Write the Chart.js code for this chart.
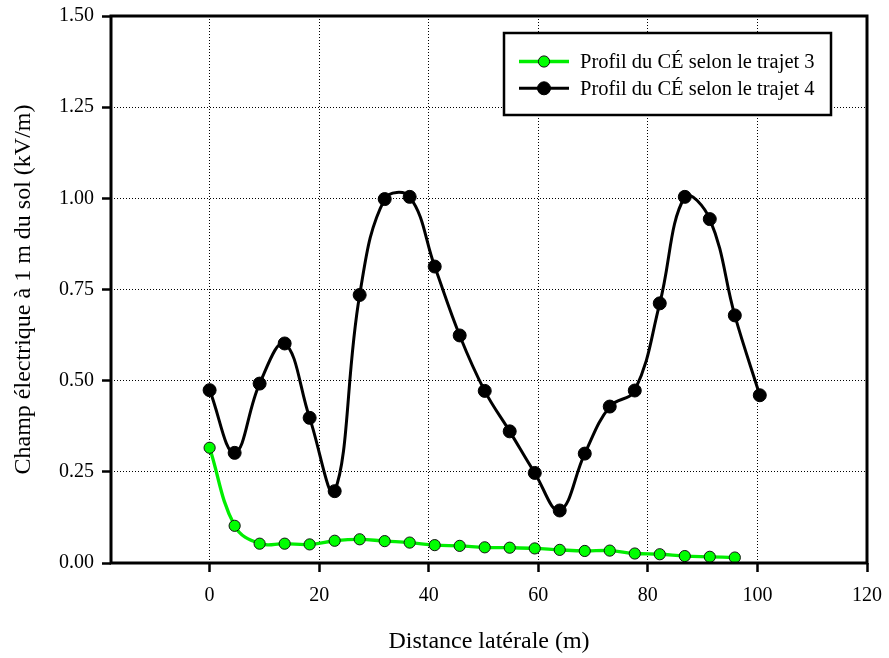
<!DOCTYPE html>
<html>
<head>
<meta charset="utf-8">
<script src="https://cdn.jsdelivr.net/npm/chart.js@4"></script>
<style>
  html, body { margin: 0; padding: 0; background: #fff; }
  canvas { display: block; }
</style>
</head>
<body>
<canvas id="chart" width="889" height="658"></canvas>
<script>
// Values
const distances = [0, 4.57, 9.13, 13.70, 18.26, 22.83, 27.39, 31.96, 36.52, 41.09, 45.65, 50.22,
                   54.78, 59.35, 63.91, 68.48, 73.04, 77.61, 82.17, 86.74, 91.30, 95.87, 100.43];
const champTrajet3 = [0.316, 0.102, 0.053, 0.053, 0.051, 0.061, 0.065, 0.060, 0.056, 0.049, 0.047,
                      0.043, 0.042, 0.040, 0.036, 0.033, 0.034, 0.026, 0.024, 0.019, 0.017, 0.015];
const champTrajet4 = [0.474, 0.302, 0.492, 0.602, 0.398, 0.197, 0.735, 0.998, 1.004, 0.813, 0.624, 0.472,
                      0.361, 0.247, 0.144, 0.300, 0.429, 0.473, 0.712, 1.004, 0.943, 0.679, 0.460];
const xTicks = [0, 20, 40, 60, 80, 100, 120];
const yTicks = [0, 0.25, 0.5, 0.75, 1.0, 1.25, 1.5];
const labels = ['Profil du CÉ selon le trajet 3', 'Profil du CÉ selon le trajet 4'];

const serif = '"Liberation Serif", "Times New Roman", serif';

function toPoints(values) {
    return values.map((v, i) => ({ x: distances[i], y: v }));
}

// Frame round the plot area and the boxed legend
const frameAndLegend = {
    id: 'frameAndLegend',
    afterDraw(chart) {
        const ctx = chart.ctx;
        const a = chart.chartArea;
        ctx.save();
        ctx.lineWidth = 3;
        ctx.strokeStyle = '#000';
        ctx.strokeRect(a.left, a.top, a.right - a.left, a.bottom - a.top);

        // legend
        ctx.fillStyle = '#fff';
        ctx.fillRect(504, 33, 327, 82);
        ctx.lineWidth = 2.5;
        ctx.strokeRect(504, 33, 327, 82);
        chart.data.datasets.forEach((ds, i) => {
            const y = 61.5 + i * 26.8;
            ctx.beginPath();
            ctx.moveTo(519, y);
            ctx.lineTo(569, y);
            ctx.lineWidth = ds.borderWidth;
            ctx.strokeStyle = ds.borderColor;
            ctx.stroke();
            ctx.beginPath();
            ctx.arc(544, y, ds.pointRadius, 0, Math.PI * 2);
            ctx.fillStyle = ds.pointBackgroundColor;
            ctx.fill();
            ctx.lineWidth = ds.pointBorderWidth;
            ctx.strokeStyle = ds.pointBorderColor;
            ctx.stroke();
            ctx.fillStyle = '#000';
            ctx.font = '20.5px ' + serif;
            ctx.textBaseline = 'middle';
            ctx.textAlign = 'left';
            ctx.fillText(ds.label, 580, y + 1);
        });
        ctx.restore();
    }
};

const ctx = document.getElementById('chart').getContext('2d');
new Chart(ctx, {
    type: 'line',
    data: {
        datasets: [{
            label: labels[0],
            data: toPoints(champTrajet3),
            borderColor: '#00ee00',
            borderWidth: 3.3,
            pointRadius: 5.6,
            pointBackgroundColor: '#00ff00',
            pointBorderColor: '#111',
            pointBorderWidth: 1,
            tension: 0.4
        }, {
            label: labels[1],
            data: toPoints(champTrajet4),
            borderColor: '#000',
            borderWidth: 3,
            pointRadius: 6.5,
            pointBackgroundColor: '#000',
            pointBorderColor: '#000',
            pointBorderWidth: 1,
            tension: 0.4
        }]
    },
    options: {
        responsive: false,
        animation: false,
        layout: { padding: { top: 16, right: 22, left: 0, bottom: 0 } },
        plugins: {
            legend: { display: false },
            tooltip: { enabled: false }
        },
        scales: {
            x: {
                type: 'linear',
                min: -18,
                max: 120,
                afterBuildTicks: s => { s.ticks = xTicks.map(v => ({ value: v })); },
                afterFit: s => {
                    s.height = 95;
                    s.paddingLeft = 0;
                    s.paddingRight = 0;
                },
                grid: {
                    color: '#000',
                    lineWidth: 1,
                    tickLength: 9,
                    tickColor: '#000',
                    tickWidth: 2.5
                },
                border: { display: false, dash: [1, 2] },
                ticks: {
                    color: '#000',
                    padding: 12,
                    maxRotation: 0,
                    font: { family: serif, size: 20 }
                },
                title: {
                    display: true,
                    text: 'Distance latérale (m)',
                    color: '#000',
                    padding: { top: 0, bottom: 2 },
                    font: { family: serif, size: 24 }
                }
            },
            y: {
                min: 0,
                max: 1.5,
                afterBuildTicks: s => { s.ticks = yTicks.map(v => ({ value: v })); },
                afterFit: s => {
                    s.width = 111;
                    s.paddingTop = 0;
                    s.paddingBottom = 0;
                },
                grid: {
                    color: '#000',
                    lineWidth: 1,
                    tickLength: 9,
                    tickColor: '#000',
                    tickWidth: 2.5
                },
                border: { display: false, dash: [1, 2] },
                ticks: {
                    color: '#000',
                    padding: 8,
                    font: { family: serif, size: 20 },
                    callback: v => v.toFixed(2)
                },
                title: {
                    display: true,
                    text: 'Champ électrique à 1 m du sol (kV/m)',
                    color: '#000',
                    padding: { top: 9, bottom: 0 },
                    font: { family: serif, size: 24 }
                }
            }
        }
    },
    plugins: [frameAndLegend]
});
</script>
</body>
</html>
